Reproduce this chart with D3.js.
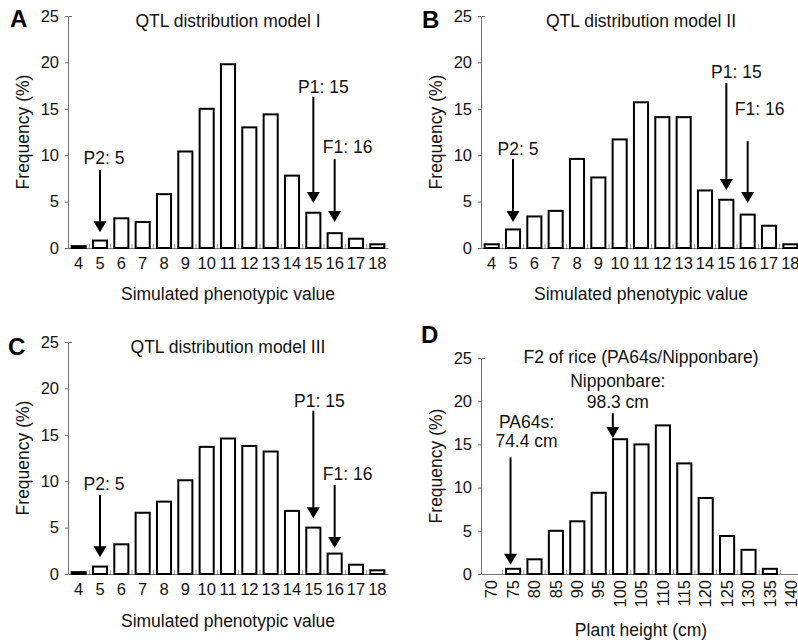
<!DOCTYPE html>
<html>
<head>
<meta charset="utf-8">
<script src="https://cdn.jsdelivr.net/npm/d3@7"></script>
<style>
  body { margin: 0; background: #fff; }
  svg { font-family: "Liberation Sans", Arial, sans-serif; }
</style>
</head>
<body>
<script>
var width = 798, height = 642;

//Data
const phenoValues = ["4", "5", "6", "7", "8", "9", "10", "11", "12", "13", "14", "15", "16", "17", "18"];
const plantHeights = ["70", "75", "80", "85", "90", "95", "100", "105", "110", "115", "120", "125", "130", "135", "140"];
const freqModelI = [0.2, 0.8, 3.2, 2.8, 5.8, 10.4, 15.0, 19.8, 13.0, 14.4, 7.8, 3.8, 1.6, 1.0, 0.4];
const freqModelII = [0.4, 2.0, 3.4, 4.0, 9.6, 7.6, 11.7, 15.7, 14.1, 14.1, 6.2, 5.2, 3.6, 2.4, 0.4];
const freqModelIII = [0.2, 0.8, 3.2, 6.6, 7.8, 10.1, 13.7, 14.6, 13.8, 13.2, 6.8, 5.0, 2.2, 1.0, 0.4];
const freqRice = [0, 0.6, 1.7, 5.0, 6.1, 9.4, 15.6, 15.0, 17.2, 12.8, 8.8, 4.4, 2.8, 0.6, 0];
const yTicks = [0, 5, 10, 15, 20, 25];

//Arrows: value on x, text baseline(s) and arrow start/tip in frequency units
const notesModelI = [
    { lines: ["P2: 5"], at: "5", textY: [9.0], from: 8.4, to: 1.7, dx: 4 },
    { lines: ["P1: 15"], at: "15", textY: [16.7], from: 16.3, to: 4.85, dx: 10 },
    { lines: ["F1: 16"], at: "16", textY: [10.2], from: 9.6, to: 2.8, dx: 13 }
];
const notesModelII = [
    { lines: ["P2: 5"], at: "5", textY: [10.0], from: 9.6, to: 2.8, dx: 5 },
    { lines: ["P1: 15"], at: "15", textY: [18.3], from: 17.8, to: 6.25, dx: 10 },
    { lines: ["F1: 16"], at: "16", textY: [14.3], from: 11.5, to: 4.85, dx: 12 }
];
const notesModelIII = [
    { lines: ["P2: 5"], at: "5", textY: [9.05], from: 8.5, to: 1.8, dx: 4 },
    { lines: ["P1: 15"], at: "15", textY: [18.0], from: 17.6, to: 6.0, dx: 6 },
    { lines: ["F1: 16"], at: "16", textY: [10.1], from: 9.6, to: 2.8, dx: 13 }
];
const notesRice = [
    { lines: ["PA64s:", "74.4 cm"], at: 74.4, textY: [16.9, 14.7], from: 13.5, to: 1.07, dx: 16 },
    { lines: ["Nipponbare:", "98.3 cm"], at: 98.3, textY: [21.7, 19.2], from: 18.6, to: 15.75, dx: 5 }
];

//Panel layout
const panels = [
    { letter: "A", lx: 10, ly: 27, title: "QTL distribution model I", titleY: 27, cats: phenoValues, values: freqModelI, notes: notesModelI,
      left: 68, right: 388, top: 16, bottom: 248, xTitle: "Simulated phenotypic value", xTitleY: 300, rotate: false },
    { letter: "B", lx: 422, ly: 28, title: "QTL distribution model II", titleY: 27, cats: phenoValues, values: freqModelII, notes: notesModelII,
      left: 481, right: 801, top: 16, bottom: 248, xTitle: "Simulated phenotypic value", xTitleY: 300, rotate: false },
    { letter: "C", lx: 8, ly: 355, title: "QTL distribution model III", titleY: 353, cats: phenoValues, values: freqModelIII, notes: notesModelIII,
      left: 68, right: 388, top: 342, bottom: 574, xTitle: "Simulated phenotypic value", xTitleY: 627, rotate: false },
    { letter: "D", lx: 421, ly: 343, title: "F2 of rice (PA64s/Nipponbare)", titleY: 363, cats: plantHeights, values: freqRice, notes: notesRice,
      left: 481, right: 802, top: 358, bottom: 574, xTitle: "Plant height (cm)", xTitleY: 636, rotate: true }
];

const svg = d3.select("body").append("svg")
    .attr("width", width)
    .attr("height", height);

const axisColor = "#707070";

function drawPanel(p) {
    const g = svg.append("g");

    const x = d3.scaleBand().domain(p.cats).range([p.left, p.right]).paddingInner(0.34).paddingOuter(0.17);
    const y = d3.scaleLinear().domain([0, 25]).range([p.bottom, p.top]);
    //numeric position for the rice panel arrows
    const xNum = v => x(p.cats[0]) + x.bandwidth() / 2 + (v - +p.cats[0]) / (+p.cats[1] - +p.cats[0]) * x.step();
    const xAt = v => typeof v === "number" ? xNum(v) : x(v) + x.bandwidth() / 2;

    //y axis
    const yAxis = g.append("g")
        .attr("transform", `translate(${p.left},0)`)
        .call(d3.axisLeft(y).tickValues(yTicks).tickSizeInner(3).tickSizeOuter(-4).tickPadding(6));
    yAxis.select(".domain").attr("stroke", axisColor);
    yAxis.selectAll(".tick line").attr("stroke", axisColor);
    yAxis.selectAll("text").attr("fill", "#111").style("font-size", "16.5px");

    //x axis
    const xAxis = g.append("g")
        .attr("transform", `translate(0,${p.bottom})`)
        .call(d3.axisBottom(x).tickSize(0).tickPadding(9));
    xAxis.select(".domain").attr("stroke", axisColor);
    xAxis.selectAll("text").attr("fill", "#111").style("font-size", "16.5px");
    if (p.rotate) {
        xAxis.selectAll("text")
            .attr("transform", "translate(0,6) rotate(-90)")
            .attr("y", 0)
            .attr("dy", "0.35em")
            .style("text-anchor", "end");
    }

    //small ticks between bars
    g.append("g").selectAll("line")
        .data(p.cats.slice(1))
        .join("line")
        .attr("x1", d => x(d) - x.step() * x.paddingInner() / 2)
        .attr("x2", d => x(d) - x.step() * x.paddingInner() / 2)
        .attr("y1", p.bottom)
        .attr("y2", p.bottom - 4)
        .attr("stroke", "#999");

    //bars
    g.append("g").selectAll("rect")
        .data(p.cats.map((c, i) => ({ cat: c, value: p.values[i] })).filter(d => d.value > 0))
        .join("rect")
        .attr("x", d => x(d.cat))
        .attr("width", x.bandwidth())
        .attr("y", d => y(d.value))
        .attr("height", d => y(0) - y(d.value))
        .attr("fill", "#fff")
        .attr("stroke", "#000")
        .attr("stroke-width", 2);

    //arrows and labels
    p.notes.forEach(n => {
        const ax = xAt(n.at);
        const tip = y(n.to);
        g.append("line")
            .attr("x1", ax).attr("x2", ax)
            .attr("y1", y(n.from)).attr("y2", tip - 9)
            .attr("stroke", "#000").attr("stroke-width", 2);
        g.append("path")
            .attr("d", `M${ax - 6.5},${tip - 11}L${ax + 6.5},${tip - 11}L${ax},${tip}Z`)
            .attr("fill", "#000");
        n.lines.forEach((line, i) => {
            g.append("text")
                .attr("x", ax + n.dx)
                .attr("y", y(n.textY[i]))
                .attr("text-anchor", "middle")
                .style("font-size", "17.5px")
                .attr("fill", "#111")
                .text(line);
        });
    });

    //titles
    const mid = p.left + 160;
    g.append("text")
        .attr("x", mid)
        .attr("y", p.titleY)
        .attr("text-anchor", "middle")
        .style("font-size", "17.5px")
        .attr("fill", "#111")
        .text(p.title);

    g.append("text")
        .attr("x", mid)
        .attr("y", p.xTitleY)
        .attr("text-anchor", "middle")
        .style("font-size", "17.5px")
        .attr("fill", "#111")
        .text(p.xTitle);

    g.append("text")
        .attr("transform", `translate(${p.left - 45},${(p.top + p.bottom) / 2}) rotate(-90)`)
        .attr("text-anchor", "middle")
        .attr("dy", "0.35em")
        .style("font-size", "17.5px")
        .attr("fill", "#111")
        .text("Frequency (%)");

    g.append("text")
        .attr("x", p.lx)
        .attr("y", p.ly)
        .style("font-size", "24px")
        .style("font-weight", "bold")
        .attr("fill", "#000")
        .text(p.letter);
}

panels.forEach(drawPanel);
</script>
</body>
</html>
